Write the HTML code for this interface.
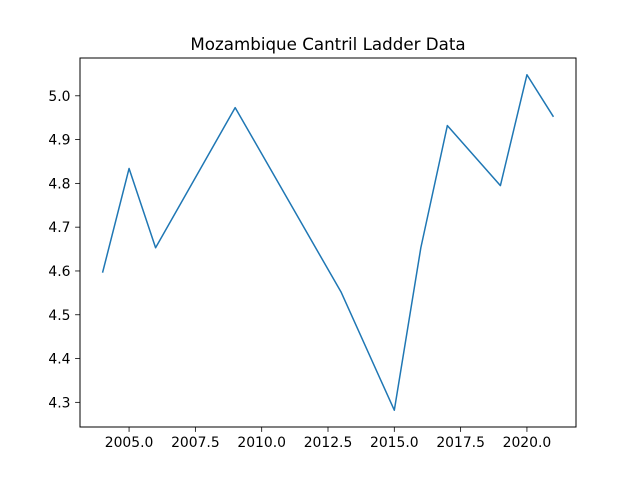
<!DOCTYPE html>
<html><head><meta charset="utf-8"><style>
body{margin:0;background:#fff;}
svg text{font-family:"DejaVu Sans","Liberation Sans",sans-serif;fill:#000;}
</style></head><body>
<svg id="chart" width="640" height="480">
<rect width="640" height="480" fill="#fff"/>
<text x="328" y="50" font-size="16.7" text-anchor="middle">Mozambique Cantril Ladder Data</text>
<rect x="80" y="58" width="496" height="369" fill="none" stroke="#000" stroke-width="1"/>
</svg>
<script>
const years = [2004,2005,2006,2009,2013,2015,2016,2017,2019,2020,2021];
const values = [4.596,4.834,4.653,4.973,4.551,4.282,4.653,4.932,4.795,5.048,4.952];
const xTicks = [2005.0,2007.5,2010.0,2012.5,2015.0,2017.5,2020.0];
const yTicks = [4.3,4.4,4.5,4.6,4.7,4.8,4.9,5.0];
const L=80,R=576,T=58,B=427;
const xmin=2003.15,xmax=2021.85,ymin=4.2437,ymax=5.0863;
const sx=v=>L+(v-xmin)/(xmax-xmin)*(R-L);
const sy=v=>B-(v-ymin)/(ymax-ymin)*(B-T);
const svg=document.getElementById('chart');
const NS='http://www.w3.org/2000/svg';
function mk(t,a){const e=document.createElementNS(NS,t);for(const k in a)e.setAttribute(k,a[k]);svg.appendChild(e);return e;}
xTicks.forEach(v=>{
 const x=sx(v);
 const l=mk('line',{x1:x,x2:x,y1:B,y2:B+4.9,stroke:'#000','stroke-width':0.8});
 
 
 const t=mk('text',{x:x,y:B+20,'font-size':13.9,'text-anchor':'middle'});
 t.textContent=v.toFixed(1);
 
 
});
yTicks.forEach(v=>{
 const y=sy(v);
 const l=mk('line',{x1:L-4.9,x2:L,y1:y,y2:y,stroke:'#000','stroke-width':0.8});
 
 
 const t=mk('text',{x:L-9.5,y:y+5,'font-size':13.9,'text-anchor':'end'});
 t.textContent=v.toFixed(1);
 
 
});
const p=mk('polyline',{points:years.map((y,i)=>sx(y)+','+sy(values[i])).join(' '),fill:'none',stroke:'#1f77b4','stroke-width':1.5,'stroke-linejoin':'round'});


</script>
</body></html>
